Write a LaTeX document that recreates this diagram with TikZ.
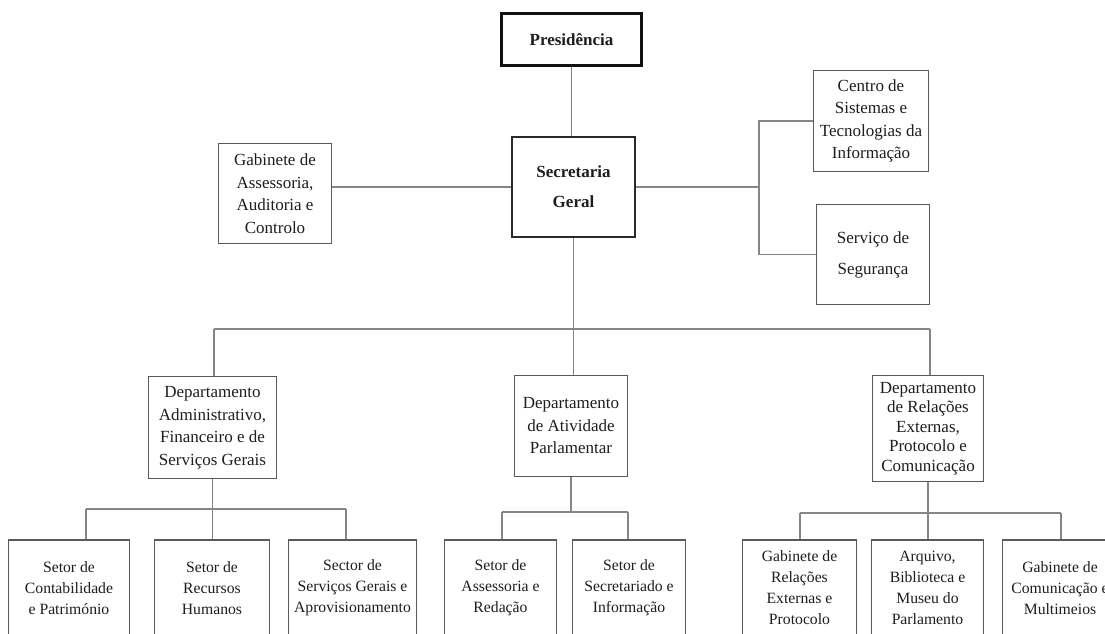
\documentclass[tikz,border=0pt]{standalone}
\usepackage{fontspec}
\setmainfont{Liberation Serif}
\usepackage{tikz}
\usetikzlibrary{calc}
\definecolor{orgText}{HTML}{1E1E1E}
\definecolor{orgLine}{HTML}{5A5A5A}
\definecolor{orgLink}{HTML}{858585}
\definecolor{orgTop}{HTML}{111111}
\tikzset{
  orgnode/.style={
    draw=orgLine, line width=1.5pt, inner sep=1pt, align=center,
    text=orgText, font=\fontsize{17}{22.5}\selectfont
  },
  topnode/.style={orgnode, draw=orgTop, line width=3.5pt, font=\fontsize{17}{22}\selectfont\bfseries},
  secnode/.style={orgnode, draw=orgTop!90, line width=2.6pt, font=\fontsize{17}{30}\selectfont\bfseries},
  unitnode/.style={orgnode, minimum width=113pt, minimum height=100pt},
  sectornode/.style={orgnode, minimum height=96pt, font=\fontsize{15.7}{21}\selectfont},
  link/.style={draw=orgLink, line width=1.4pt}
}
\begin{document}
\begin{tikzpicture}[x=1pt, y=-1pt]
  \useasboundingbox (0,0) rectangle (1105,633);
  \fill[white] (0,0) rectangle (1105,633);
  \clip (0,0) rectangle (1105,633);

  % top levels
  \node[topnode, minimum width=140pt, minimum height=52pt] (pres) at (571.5,39.5) {Presidência};
  \node[secnode, minimum width=123pt, minimum height=100pt] (sec) at (573.5,187) {Secretaria\\Geral};
  \node[unitnode] (gab) at (275,193.5) {Gabinete de\\Assessoria,\\Auditoria e\\Controlo};
  \node[unitnode, minimum width=115pt, minimum height=101pt] (csti) at (871,121) {Centro de\\Sistemas e\\Tecnologias da\\Informação};
  \node[unitnode, font=\fontsize{17}{31}\selectfont] (seg) at (873,254.5) {Serviço de\\Segurança};

  % departments
  \node[unitnode, minimum width=128pt, minimum height=102pt] (dadm) at (212.5,427.5) {Departamento\\Administrativo,\\Financeiro e de\\Serviços Gerais};
  \node[unitnode, minimum height=101pt] (dativ) at (571,426) {Departamento\\de Atividade\\Parlamentar};
  \node[unitnode, minimum width=111pt, minimum height=106pt, font=\fontsize{17}{19.5}\selectfont] (drel) at (928,428.5) {Departamento\\de Relações\\Externas,\\Protocolo e\\Comunicação};

  % sectors
  \node[sectornode, minimum width=121pt] (scont) at (69,588) {Setor de\\Contabilidade\\e Património};
  \node[sectornode, minimum width=115pt] (srh) at (212,588) {Setor de\\Recursos\\Humanos};
  \node[sectornode, minimum width=128pt] (sserv) at (352.5,588) {Sector de\\Serviços Gerais e\\Aprovisionamento};
  \node[sectornode, minimum width=112pt] (sass) at (500.5,588) {Setor de\\Assessoria e\\Redação};
  \node[sectornode, minimum width=113pt] (ssec) at (629,588) {Setor de\\Secretariado e\\Informação};
  \node[sectornode, minimum width=114pt] (grel) at (799.5,588) {Gabinete de\\Relações\\Externas e\\Protocolo};
  \node[sectornode, minimum width=112pt] (arq) at (927.5,588) {Arquivo,\\Biblioteca e\\Museu do\\Parlamento};
  \node[sectornode, minimum width=115pt] (gcom) at (1060,588) {Gabinete de\\Comunicação e\\Multimeios};

  % connectors
  \coordinate (brk) at (759,187);
  \coordinate (busL) at (214,329);
  \coordinate (busR) at (930,329);
  \coordinate (busAl) at (86,509);
  \coordinate (busAr) at (346,509);
  \coordinate (busBl) at (502,512);
  \coordinate (busBr) at (628,512);
  \coordinate (busCl) at (800,513);
  \coordinate (busCr) at (1061,513);

  \draw[link] (pres.south) -- (pres.south |- sec.north);
  \draw[link] (sec.west) -- (sec.west -| gab.east);
  \draw[link] (sec.east) -- (brk);
  \draw[link] (csti.west) -| (brk);
  \draw[link] (seg.west) -| (brk);

  \draw[link] (sec.south) -- (sec.south |- dativ.north);
  \draw[link] (busL) -- (busR);
  \draw[link] (busL) -- (busL |- dadm.north);
  \draw[link] (busR) -- (busR |- drel.north);

  \draw[link] (dadm.south) -- (dadm.south |- srh.north);
  \draw[link] (busAl) -- (busAr);
  \draw[link] (busAl) -- (busAl |- scont.north);
  \draw[link] (busAr) -- (busAr |- sserv.north);

  \draw[link] (dativ.south) -- (dativ.south |- busBl);
  \draw[link] (busBl) -- (busBr);
  \draw[link] (busBl) -- (busBl |- sass.north);
  \draw[link] (busBr) -- (busBr |- ssec.north);

  \draw[link] (drel.south) -- (drel.south |- arq.north);
  \draw[link] (busCl) -- (busCr);
  \draw[link] (busCl) -- (busCl |- grel.north);
  \draw[link] (busCr) -- (busCr |- gcom.north);
\end{tikzpicture}
\end{document}
